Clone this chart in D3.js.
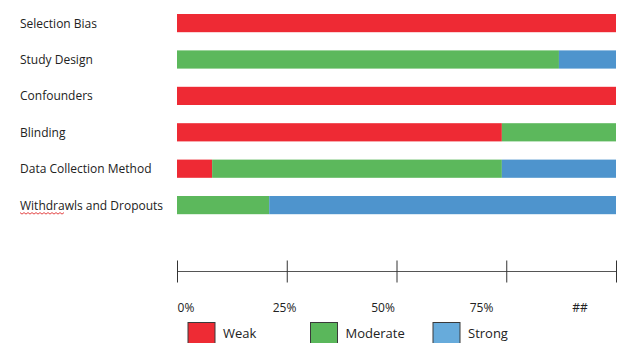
<!DOCTYPE html>
<html>
<head>
<meta charset="utf-8">
<script src="https://cdn.jsdelivr.net/npm/d3@7"></script>
<style>
  body { margin: 0; background: #fff; }
  svg text { font-family: "Open Sans", "Noto Sans", sans-serif; fill: #222; }
</style>
</head>
<body>
<div id="canvas"></div>
<script>
// quality rating per component (percent of studies)
var components = ["Selection Bias", "Study Design", "Confounders", "Blinding", "Data Collection Method", "Withdrawls and Dropouts"];
var weak     = [100, 0, 100, 74, 8, 0];
var moderate = [0, 87, 0, 26, 66, 21];
var strong   = [0, 13, 0, 0, 26, 79];

var ratings = ["Weak", "Moderate", "Strong"];
var colors = ["#ee2a34", "#5cb85c", "#4e94cd"];
var legendColors = ["#ee2b34", "#5ab75b", "#67abdb"];

var tickValues = [0, 25, 50, 75, 100];
var tickLabels = ["0%", "25%", "50%", "75%", "##"];

var W = 622, H = 343;
var svg = d3.select("#canvas").append("svg").attr("width", W).attr("height", H);

var rows = components.map(function(c, i) {
  return { name: c, Weak: weak[i], Moderate: moderate[i], Strong: strong[i] };
});
var stack = d3.stack().keys(ratings)(rows);

var x = d3.scaleLinear().domain([0, 100]).range([177, 616]);
var y = d3.scaleBand().domain(components).range([4.9, 223.3]).paddingInner(0.5).paddingOuter(0.25);
var color = d3.scaleOrdinal().domain(ratings).range(colors);

// bars
svg.append("g").selectAll("g").data(stack).join("g")
  .attr("fill", function(d) { return color(d.key); })
  .selectAll("rect").data(function(d) { return d; }).join("rect")
  .attr("x", function(d) { return x(d[0]); })
  .attr("y", function(d) { return y(d.data.name); })
  .attr("width", function(d) { return x(d[1]) - x(d[0]); })
  .attr("height", y.bandwidth());

// row labels
svg.append("g").selectAll("text").data(components).join("text")
  .attr("x", 20)
  .attr("y", function(d) { return y(d) + y.bandwidth() / 2 + 4.5; })
  .attr("font-size", 12)
  .text(function(d) { return d; });

// spell-check squiggle under "Withdrawls"
var wy = y("Withdrawls and Dropouts") + y.bandwidth() / 2 + 7.5;
var sq = "M20," + wy;
for (var i = 0; i < 22; i++) {
  sq += " L" + (22 + i * 2) + "," + (wy + (i % 2 === 0 ? 1.5 : 0));
}
svg.append("path").attr("d", sq).attr("fill", "none").attr("stroke", "#e03030").attr("stroke-width", 0.9);

// axis
var axisY = 271.5;
var axis = svg.append("g").attr("transform", "translate(0," + axisY + ")")
  .call(d3.axisBottom(x).tickValues(tickValues).tickSize(11).tickFormat(""));
axis.select(".domain").attr("stroke", "#555").attr("d", "M" + x(0) + ",0H" + x(100));
axis.selectAll(".tick line").attr("y1", -11).attr("stroke", "#333");

// tick labels (spread as in the original spreadsheet)
var labelX = d3.scaleLinear().domain([0, 100]).range([186, 580]);
svg.append("g").selectAll("text").data(tickValues).join("text")
  .attr("x", function(d) { return labelX(d); })
  .attr("y", 311.5)
  .attr("text-anchor", "middle")
  .attr("font-size", 12)
  .text(function(d, i) { return tickLabels[i]; });

// legend
var legendX = d3.scalePoint().domain(ratings).range([188, 433]);
var lg = svg.append("g").selectAll("g").data(ratings).join("g")
  .attr("transform", function(d) { return "translate(" + legendX(d) + ",322.5)"; });
lg.append("rect")
  .attr("width", 27).attr("height", 24)
  .attr("fill", function(d, i) { return legendColors[i]; })
  .attr("stroke", "#3a3a3a").attr("stroke-width", 1);
lg.append("text")
  .attr("x", 35).attr("y", 15.5)
  .attr("font-size", 13)
  .text(function(d) { return d; });
</script>
</body>
</html>
